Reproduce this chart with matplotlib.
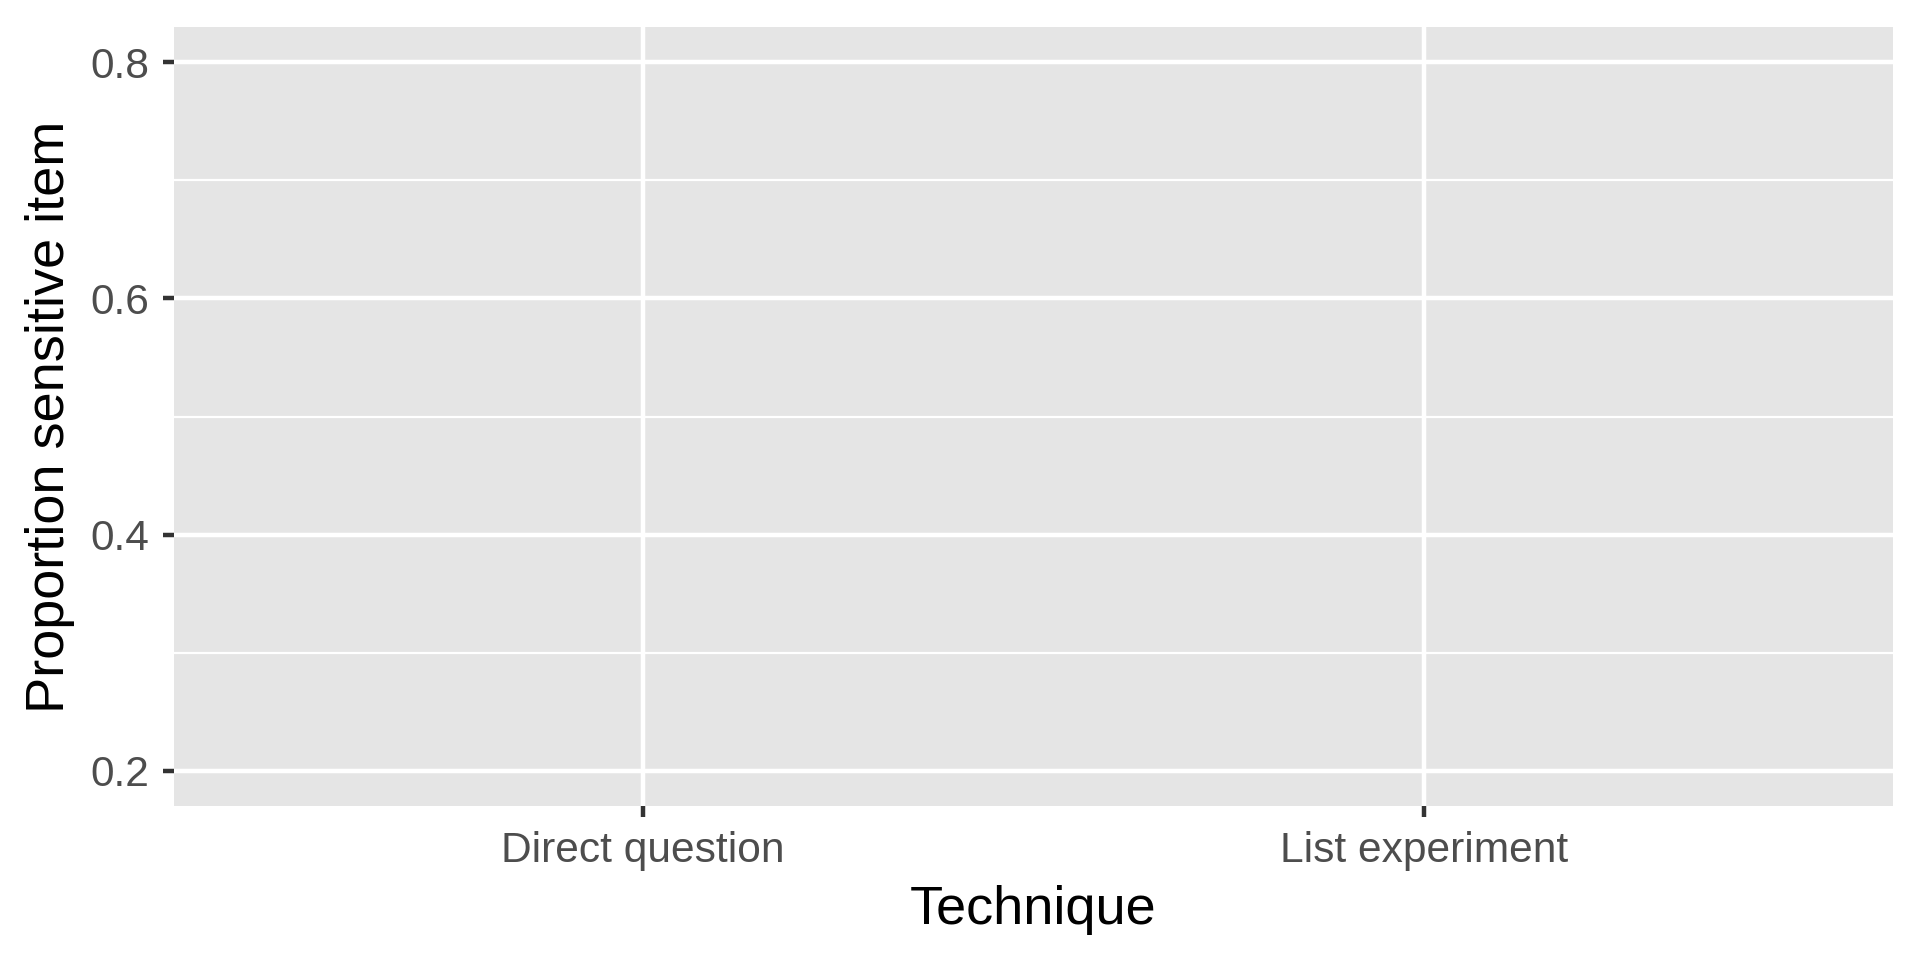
import matplotlib
matplotlib.use("Agg")
import matplotlib.pyplot as plt
from matplotlib.ticker import MultipleLocator

# Data (the reference panel shows no visible marks)
categories = ["Direct question", "List experiment"]
y_extent = [0.2, 0.8]          # data extent implied by the axis
y_ticks = [0.2, 0.4, 0.6, 0.8]
x_label = "Technique"
y_label = "Proportion sensitive item"

plt.rcParams['font.family'] = ['Liberation Sans', 'DejaVu Sans']

fig = plt.figure(figsize=(6.4, 3.2), dpi=300)
ax = fig.add_axes([174/1920, 1 - 806/960, (1893-174)/1920, (806-27)/960])

ax.set_facecolor("#E5E5E5")
x_pos = list(range(1, len(categories) + 1))
ax.set_xticks(x_pos)
ax.set_xticklabels(categories)
ax.set_xlim(0.4, len(categories) + 0.6)
span = y_extent[1] - y_extent[0]
ax.set_ylim(y_extent[0] - 0.05 * span, y_extent[1] + 0.05 * span)
ax.set_yticks(y_ticks)
ax.set_yticklabels([f"{v:.1f}" for v in y_ticks])
ax.yaxis.set_minor_locator(MultipleLocator(0.1))
ax.tick_params(axis='y', which='minor', length=0)

ax.grid(True, which='major', color='white', linewidth=1.07)
ax.grid(True, which='minor', axis='y', color='white', linewidth=0.53)
ax.set_axisbelow(True)
for s in ax.spines.values():
    s.set_visible(False)

ax.tick_params(axis='both', which='major', length=2.75, width=1.07, color='#333333',
               labelsize=10.2, labelcolor='#4D4D4D', pad=3.2)
ax.set_xlabel(x_label, fontsize=13, color='black', labelpad=3.5)
ax.set_ylabel(y_label, fontsize=13, color='black', labelpad=3.7)

fig.savefig("out.png", dpi=300, facecolor='white')
